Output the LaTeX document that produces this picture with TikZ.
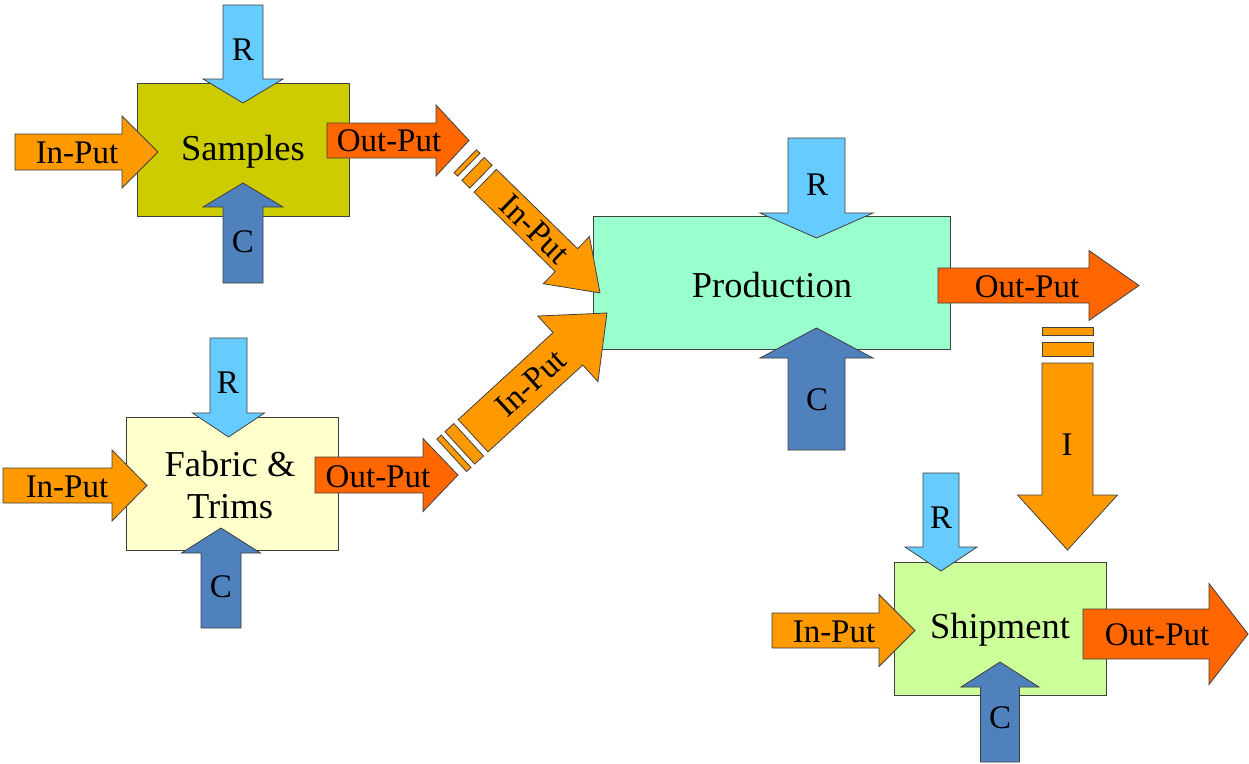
\documentclass[tikz,border=0pt]{standalone}
\usepackage{fontspec}
\setmainfont{Liberation Serif}
\definecolor{cSamp}{HTML}{CCCC00}
\definecolor{cFab}{HTML}{FFFFCC}
\definecolor{cProd}{HTML}{99FFCC}
\definecolor{cShip}{HTML}{CCFF99}
\definecolor{cR}{HTML}{66CCFF}
\definecolor{cC}{HTML}{4F81BD}
\definecolor{cIn}{HTML}{FF9900}
\definecolor{cOut}{HTML}{FF6600}
\newcommand\blockarr[5]{%
  \draw[#1] (0,-#3) -- ({#2-#5},-#3) -- ({#2-#5},-#4) -- (#2,0) -- ({#2-#5},#4) -- ({#2-#5},#3) -- (0,#3) -- cycle;}
\newcommand\stripearr[9]{%
  \draw[#1] (0,-#3) rectangle (#6,#3);
  \draw[#1] (#7,-#3) rectangle (#8,#3);
  \draw[#1] (#9,-#3) -- ({#2-#5},-#3) -- ({#2-#5},-#4) -- (#2,0) -- ({#2-#5},#4) -- ({#2-#5},#3) -- (#9,#3) -- cycle;}
\tikzset{
  outl/.style={draw=black!75, line width=0.8pt},
  boxnode/.style={outl, inner sep=0pt, font=\fontsize{36.5}{42}\selectfont, align=center},
  rarr/.style={outl, fill=cR},
  carr/.style={outl, fill=cC},
  inarr/.style={outl, fill=cIn},
  outarr/.style={outl, fill=cOut},
  lbl/.style={inner sep=0pt, font=\fontsize{33}{38}\selectfont},
}
\begin{document}
\begin{tikzpicture}[x=1pt,y=-1pt]
\useasboundingbox (0,0) rectangle (1249,763);
% ---------- boxes ----------
\node[boxnode, fill=cSamp, minimum width=212pt, minimum height=133pt] (samples) at (243,149.5) {};
\node[boxnode, fill=cFab, minimum width=212pt, minimum height=133pt] (fabric) at (232,483.5) {};
\node[boxnode, fill=cProd, minimum width=357pt, minimum height=133pt] (production) at (771.5,282.5) {};
\node[boxnode, fill=cShip, minimum width=212pt, minimum height=133pt] (shipment) at (1000,628.5) {};
\node[font=\fontsize{36.5}{42}\selectfont, inner sep=0pt] (samplesT) at (243,152) {Samples};
\node[font=\fontsize{36.5}{42}\selectfont, inner sep=0pt, align=center] (fabricT) at (230,485) {Fabric \&\\Trims};
\node[font=\fontsize{36.5}{42}\selectfont, inner sep=0pt] (productionT) at (772,285) {Production};
\node[font=\fontsize{36.5}{42}\selectfont, inner sep=0pt] (shipmentT) at (1000,630) {Shipment};
% ---------- Samples arrows ----------
\begin{scope}[shift={(243,5)},rotate=-90]\blockarr{rarr}{98}{20}{40}{24}\end{scope}
\begin{scope}[shift={(243,283)},rotate=90]\blockarr{carr}{100}{20}{40}{24}\end{scope}
\begin{scope}[shift={(15,152)}]\blockarr{inarr}{143}{18}{36}{36}\end{scope}
\begin{scope}[shift={(327,140.5)}]\blockarr{outarr}{142}{17.5}{35.5}{33}\end{scope}
\node[lbl] (sR) at (243,50) {R};
\node[lbl] (sC) at (243,242) {C};
\node[lbl] (sIn) at (77,153) {In-Put};
\node[lbl] (sOut) at (389,141) {Out-Put};
% ---------- Fabric arrows ----------
\begin{scope}[shift={(228.5,338)},rotate=-90]\blockarr{rarr}{99}{18.5}{36}{24}\end{scope}
\begin{scope}[shift={(221,628)},rotate=90]\blockarr{carr}{100}{20}{39.5}{25}\end{scope}
\begin{scope}[shift={(3,485.5)}]\blockarr{inarr}{144}{17.5}{35.5}{35}\end{scope}
\begin{scope}[shift={(315,475)}]\blockarr{outarr}{143}{18}{36.5}{35}\end{scope}
\node[lbl] (fR) at (228,383) {R};
\node[lbl] (fC) at (221,587) {C};
\node[lbl] (fIn) at (67,487) {In-Put};
\node[lbl] (fOut) at (378,477) {Out-Put};
% ---------- diagonal inputs to Production ----------
\begin{scope}[shift={(465.2,161.2)},rotate=-44.35]
  \stripearr{inarr}{188.5}{16}{33}{47}{5}{11}{22}{28}
  \node[lbl, rotate=-44.35] (dIn1) at (97,0) {In-Put};
\end{scope}
\begin{scope}[shift={(451.7,455.3)},rotate=42.5]
  \stripearr{inarr}{210.6}{22}{44.5}{53}{6}{11}{23}{29}
  \node[lbl, rotate=42.5] (dIn2) at (107,0) {In-Put};
\end{scope}
% ---------- Production arrows ----------
\begin{scope}[shift={(816.5,138)},rotate=-90]\blockarr{rarr}{100}{28.5}{56.5}{25}\end{scope}
\begin{scope}[shift={(816.5,450)},rotate=90]\blockarr{carr}{122}{28.5}{56.5}{30}\end{scope}
\begin{scope}[shift={(938,285.5)}]\blockarr{outarr}{201}{17.5}{35}{50}\end{scope}
\begin{scope}[shift={(1067.5,327)},rotate=-90]\stripearr{inarr}{223}{25.5}{50}{55}{8}{15}{29}{36}\end{scope}
\node[lbl] (pR) at (817,185) {R};
\node[lbl] (pC) at (817,400) {C};
\node[lbl] (pOut) at (1027,287) {Out-Put};
\node[lbl] (pI) at (1067,445) {I};
% ---------- Shipment arrows ----------
\begin{scope}[shift={(941,473)},rotate=-90]\blockarr{rarr}{98}{18}{36}{24}\end{scope}
\begin{scope}[shift={(1000,762)},rotate=90]\blockarr{carr}{100}{19.5}{39}{25}\end{scope}
\begin{scope}[shift={(772,630.5)}]\blockarr{inarr}{143}{17.5}{36}{36}\end{scope}
\begin{scope}[shift={(1083,634)}]\blockarr{outarr}{165}{25}{50.5}{39}\end{scope}
\node[lbl] (shR) at (941,518) {R};
\node[lbl] (shC) at (1000,718) {C};
\node[lbl] (shIn) at (834,632) {In-Put};
\node[lbl] (shOut) at (1157,635) {Out-Put};
\end{tikzpicture}
\end{document}
